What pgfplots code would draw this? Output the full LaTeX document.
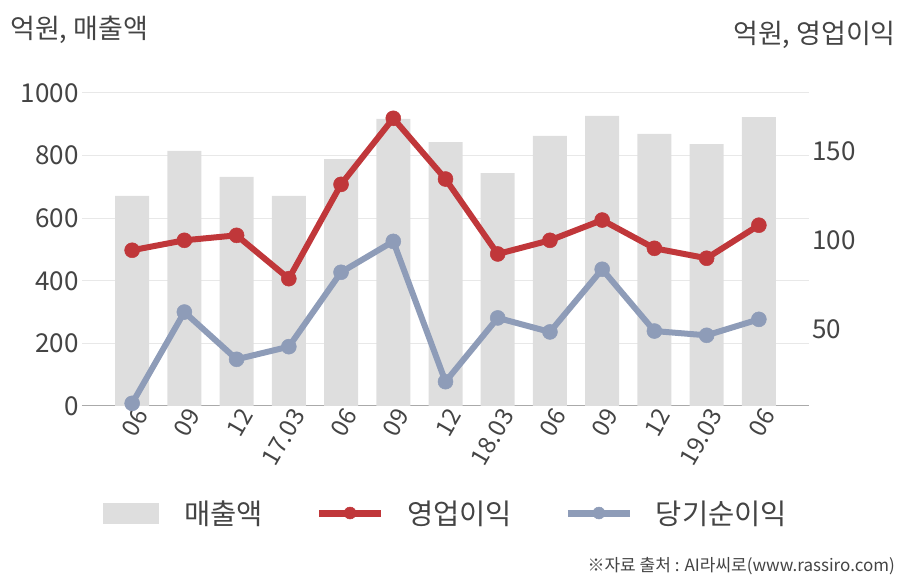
\documentclass[border=0pt]{standalone}
\usepackage{fontspec}
\setmainfont{Noto Sans CJK KR}
\usepackage{pgfplots}
\pgfplotsset{compat=1.18}
\definecolor{bargray}{HTML}{DEDEDE}
\definecolor{redl}{HTML}{C0373A}
\definecolor{bluel}{HTML}{8E9CB8}
\definecolor{textgray}{HTML}{444444}
\definecolor{gridgray}{HTML}{E8E8E8}
\definecolor{axisgray}{HTML}{AAAAAA}
\pgfplotsset{
  mylegline/.style={legend image code/.code={\path[draw=none,fill=none] (0pt,-10pt) rectangle (62pt,10pt);\draw[##1, overlay, line width=7pt, mark size=6pt, mark repeat=2, mark phase=2] plot coordinates {(0pt,0pt)(31pt,0pt)(62pt,0pt)};}},
  mylegbar/.style={legend image code/.code={\fill[bargray] (0pt,-10pt) rectangle (55pt,10pt);}},
}
\begin{document}
\begin{tikzpicture}
\useasboundingbox (-82pt,-174pt) rectangle (826pt,406pt);
\begin{axis}[
  scale only axis, width=727pt, height=313pt,
  at={(0pt,0pt)}, anchor=south west,
  xmin=-0.96, xmax=12.96, ymin=0, ymax=1000,
  axis x line*=bottom, axis y line*=left,
  x axis line style={-, draw=axisgray, line width=1pt},
  y axis line style={-, draw=none},
  major tick length=0pt, tick style={draw=none},
  xtick={0,...,12},
  xticklabels={06,09,12,17.03,06,09,12,18.03,06,09,12,19.03,06},
  xticklabel style={rotate=60, anchor=east, font=\fontsize{24}{24}\selectfont, text=textgray, xshift=3.9pt, yshift=-10.8pt},
  ytick={0,200,400,600,800,1000},
  yticklabel style={font=\fontsize{26}{26}\selectfont, text=textgray, xshift=0pt},
  /pgf/number format/assume math mode=true,
  /pgf/number format/1000 sep={},
  ymajorgrids, grid style={draw=gridgray, line width=1pt},
]
\addplot[ybar, bar width=34pt, bar shift=0pt, fill=bargray, draw=none] coordinates {
(0,671) (1,815) (2,732) (3,671) (4,789) (5,917) (6,843) (7,744) (8,863) (9,927) (10,869) (11,837) (12,923)};
\end{axis}
\begin{axis}[
  scale only axis, width=727pt, height=313pt,
  at={(0pt,0pt)}, anchor=south west,
  xmin=-0.96, xmax=12.96, ymin=6.8, ymax=183.05,
  axis x line=none, axis y line*=right,
  y axis line style={-, draw=none},
  major tick length=0pt, tick style={draw=none},
  ytick={50,100,150},
  yticklabel style={font=\fontsize{26}{26}\selectfont, text=textgray},
  /pgf/number format/assume math mode=true,
  legend columns=3,
  legend style={at={(0.0289,-0.3419)}, anchor=west, draw=none, fill=none,
    font=\fontsize{28.5}{28.5}\selectfont, text=textgray, inner sep=0pt, outer sep=0pt,
    /tikz/every odd column/.append style={column sep=24pt},
    /tikz/every even column/.append style={column sep=54pt}},
  legend cell align=left,
]
\addlegendimage{mylegbar}
\addlegendentry{매출액}
\addplot[color=redl, line width=6pt, mark=*, mark size=7.5pt, mark options={line width=0.5pt, fill=redl, draw=redl}, mylegline] coordinates {
(0,94.5) (1,100.1) (2,102.9) (3,78.5) (4,131.6) (5,168.8) (6,134.6) (7,92.4) (8,100.1) (9,111.5) (10,95.6) (11,90.0) (12,108.6)};
\addlegendentry{영업이익}
\addplot[color=bluel, line width=6pt, mark=*, mark size=7.5pt, mark options={line width=0.5pt, fill=bluel, draw=bluel}, mylegline] coordinates {
(0,8.3) (1,59.7) (2,33.1) (3,40.2) (4,82.1) (5,99.5) (6,20.5) (7,56.4) (8,48.5) (9,83.8) (10,49.0) (11,46.6) (12,55.6)};
\addlegendentry{당기순이익}
\end{axis}
\node[anchor=west, text=textgray, font=\fontsize{27}{27}\selectfont, inner sep=0pt] at (-72pt,376pt) {억원, 매출액};
\node[anchor=east, text=textgray, font=\fontsize{27}{27}\selectfont, inner sep=0pt] at (814pt,371pt) {억원, 영업이익};
\node[anchor=east, text=textgray, font=\fontsize{17}{17}\selectfont, inner sep=0pt] at (813pt,-160pt) {※자료 출처 : AI라씨로(www.rassiro.com)};
\end{tikzpicture}
\end{document}
